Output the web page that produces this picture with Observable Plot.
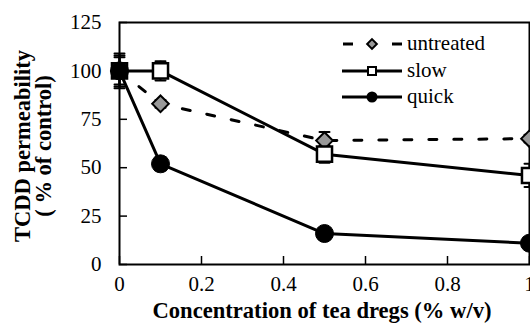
<!DOCTYPE html>
<html><head><meta charset="utf-8">
<script src="https://cdn.jsdelivr.net/npm/d3@7"></script>
<script src="https://cdn.jsdelivr.net/npm/@observablehq/plot@0.6"></script>
<style>
html,body{margin:0;padding:0;background:#fff;}
#chart{position:relative;width:530px;height:324px;overflow:hidden;background:#fff;}
#chart svg{position:absolute;left:0;top:0;}
#chart svg text{font-family:"Liberation Serif","Tinos","Times New Roman","DejaVu Serif",serif !important;}
</style></head><body><div id="chart"></div>
<script>
const concentrations = [0, 0.1, 0.5, 1];
const untreated = [100, 83, 64, 65];
const untreatedErr = [8, 2, 4.5, 2];
const slow = [100, 100, 57, 46];
const slowErr = [7, 5, 4.5, 6];
const quick = [100, 52, 16, 11];
const quickErr = [9, 3.5, 1, 1];
const xTicks = [0, 0.2, 0.4, 0.6, 0.8, 1];
const yTicks = [0, 25, 50, 75, 100, 125];
const seriesNames = ["untreated", "slow", "quick"];
const xTitle = "Concentration of tea dregs (% w/v)";
const yTitle = ["TCDD permeability", "( % of control)"];

const SERIF = "\"Liberation Serif\", Tinos, \"Times New Roman\", \"DejaVu Serif\", serif";

function rows(name, ys, errs) {
  return concentrations.map((x, i) => ({series: name, x, y: ys[i], err: errs[i]}));
}
const uRows = rows(seriesNames[0], untreated, untreatedErr);
const sRows = rows(seriesNames[1], slow, slowErr);
const qRows = rows(seriesNames[2], quick, quickErr);
const all = [...uRows, ...sRows, ...qRows];
const caps = all.flatMap(d => [{x: d.x, y: d.y - d.err}, {x: d.x, y: d.y + d.err}]);
const capShape = {draw(context, l) { context.moveTo(0, 0); context.lineTo(0, -l); }};

const plot = Plot.plot({
  width: 530, height: 324,
  marginLeft: 119, marginRight: 1, marginTop: 22, marginBottom: 60,
  x: {domain: [0, 1]},
  y: {domain: [0, 125]},
  style: {fontFamily: SERIF, fontSize: "21px", color: "#000", background: "transparent"},
  marks: [
    Plot.axisY(yTicks, {tickSize: 8, dx: 8, tickPadding: 18, label: null, strokeWidth: 1.5, tickFormat: d => String(d)}),
    Plot.axisX(xTicks, {tickSize: 8, dy: -8, tickPadding: 12, label: null, strokeWidth: 1.5, tickFormat: d => String(d)}),
    Plot.frame({stroke: "#000", strokeWidth: 2}),
    Plot.ruleX(all, {x: "x", y1: d => d.y - d.err, y2: d => d.y + d.err, stroke: "#000", strokeWidth: 2}),
    Plot.vector(caps, {x: "x", y: "y", length: 10, rotate: 90, anchor: "middle", shape: capShape, stroke: "#000", strokeWidth: 2}),
    Plot.line(uRows, {x: "x", y: "y", stroke: "#000", strokeWidth: 3, strokeDasharray: "8,17"}),
    Plot.line(sRows, {x: "x", y: "y", stroke: "#000", strokeWidth: 3}),
    Plot.line(qRows, {x: "x", y: "y", stroke: "#000", strokeWidth: 3}),
    Plot.dot(uRows, {x: "x", y: "y", symbol: "diamond2", r: 7.5, fill: "#999", stroke: "#000", strokeWidth: 2}),
    Plot.dot(sRows, {x: "x", y: "y", symbol: "square", r: 8.5, fill: "#fff", stroke: "#000", strokeWidth: 2.5}),
    Plot.dot(qRows, {x: "x", y: "y", symbol: "circle", r: 9, fill: "#000", stroke: "#000", strokeWidth: 1})
  ]
});
const chart = document.getElementById("chart");
chart.appendChild(plot);

// Overlay: titles and legend
const svg = d3.select(chart).append("svg").attr("width", 530).attr("height", 324);

svg.append("text").attr("x", 322).attr("y", 318).attr("text-anchor", "middle")
  .attr("font-size", 22.6).attr("font-weight", "bold").text(xTitle);

const yt = svg.append("text").attr("transform", "translate(33,146) rotate(-90)")
  .attr("text-anchor", "middle").attr("font-size", 22.5).attr("font-weight", "bold");
yTitle.forEach((t, i) => yt.append("tspan").attr("x", 0).attr("y", i === 0 ? -3 : 18).text(t));

const legendY = [44, 71, 97];
const lg = svg.append("g");
seriesNames.forEach((name, i) => {
  const y = legendY[i];
  if (i === 0) {
    lg.append("line").attr("x1", 343).attr("x2", 353).attr("y1", y).attr("y2", y).attr("stroke", "#000").attr("stroke-width", 3);
    lg.append("line").attr("x1", 392).attr("x2", 402).attr("y1", y).attr("y2", y).attr("stroke", "#000").attr("stroke-width", 3);
    lg.append("path").attr("d", d3.symbol(d3.symbolDiamond2, 60)()).attr("transform", `translate(372,${y})`)
      .attr("fill", "#999").attr("stroke", "#000").attr("stroke-width", 2);
  } else {
    lg.append("line").attr("x1", 342).attr("x2", 402).attr("y1", y).attr("y2", y).attr("stroke", "#000").attr("stroke-width", 3);
    if (i === 1) {
      lg.append("path").attr("d", d3.symbol(d3.symbolSquare, 64)()).attr("transform", `translate(372,${y})`)
        .attr("fill", "#fff").attr("stroke", "#000").attr("stroke-width", 2);
    } else {
      lg.append("circle").attr("cx", 372).attr("cy", y).attr("r", 5.5).attr("fill", "#000");
    }
  }
  lg.append("text").attr("x", 407).attr("y", y + 6).attr("font-size", 21).text(name);
});
</script></body></html>
